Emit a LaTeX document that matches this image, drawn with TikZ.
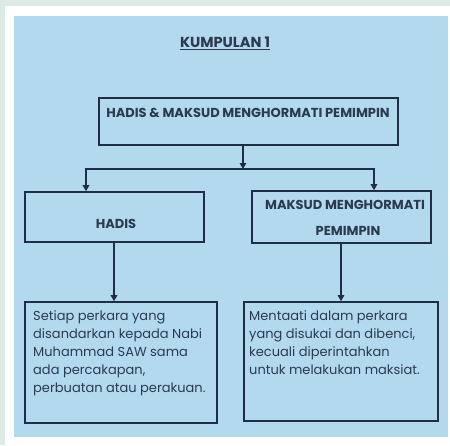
\documentclass[tikz,border=0pt]{standalone}
\usepackage{fontspec}
\setmainfont{Poppins}
\usetikzlibrary{arrows.meta}
\definecolor{outerbg}{HTML}{DDEAE5}
\definecolor{paper}{HTML}{B2D9EE}
\definecolor{ink}{HTML}{1F2E45}
\definecolor{txt}{HTML}{2C3A50}
\tikzset{
  boxst/.style={draw=ink, line width=1.6pt, inner sep=0pt},
  headtxt/.style={text=txt, font=\fontsize{13}{15}\selectfont\bfseries, inner sep=0pt},
  bodytxt/.style={text=txt, font=\fontsize{13}{18.2}\selectfont, inner sep=0pt, align=left, anchor=north west},
  conn/.style={draw=ink, line width=1.6pt},
  arr/.style={conn, -{Triangle[length=6pt,width=6.5pt]}}
}
\begin{document}
\begin{tikzpicture}[x=1pt,y=-1pt]
\useasboundingbox (0,0) rectangle (450,445);
\fill[outerbg] (0,0) rectangle (450,445);
\fill[white] (5,6) rectangle (450,445);
\fill[paper] (14,16) rectangle (448,437);

\node[text=txt, font=\fontsize{14.5}{16}\selectfont\bfseries, inner sep=0pt] (title) at (225,43) {\underline{KUMPULAN 1}};

\node[boxst, minimum width=299pt, minimum height=47pt] (top) at (248.5,121.5) {};
\node[headtxt] (toptxt) at (248,113) {HADIS \& MAKSUD MENGHORMATI PEMIMPIN};

\node[boxst, minimum width=179pt, minimum height=50pt] (hadis) at (114.5,217) {};
\node[headtxt] (hadistxt) at (116,224) {HADIS};

\node[boxst, minimum width=179pt, minimum height=52pt] (maksud) at (341.5,217) {};
\node[headtxt] (maksudtxt1) at (345,205) {MAKSUD MENGHORMATI};
\node[headtxt] (maksudtxt2) at (348,231) {PEMIMPIN};

\node[boxst, minimum width=192pt, minimum height=121pt] (def1) at (121,362.5) {};
\node[bodytxt] (def1txt) at (33,310) {Setiap perkara yang\\disandarkan kepada Nabi\\Muhammad SAW sama\\ada percakapan,\\perbuatan atau perakuan.};

\node[boxst, minimum width=194pt, minimum height=119pt] (def2) at (341,361.5) {};
\node[bodytxt] (def2txt) at (249,310) {Mentaati dalam perkara\\yang disukai dan dibenci,\\kecuali diperintahkan\\untuk melakukan maksiat.};

\coordinate (j) at (243,169);
\coordinate (jl) at (86,169);
\coordinate (jr) at (374,169);
\draw[arr] (top.south -| j) -- (j);
\draw[conn, line cap=rect] (jl) -- (jr);
\draw[arr] (jl) -- (hadis.north -| jl);
\draw[arr] (jr) -- (maksud.north -| jr);
\draw[arr] (hadis.south -| 114,0) -- (def1.north -| 114,0);
\draw[arr] (maksud.south -| 341,0) -- (def2.north -| 341,0);
\end{tikzpicture}
\end{document}
